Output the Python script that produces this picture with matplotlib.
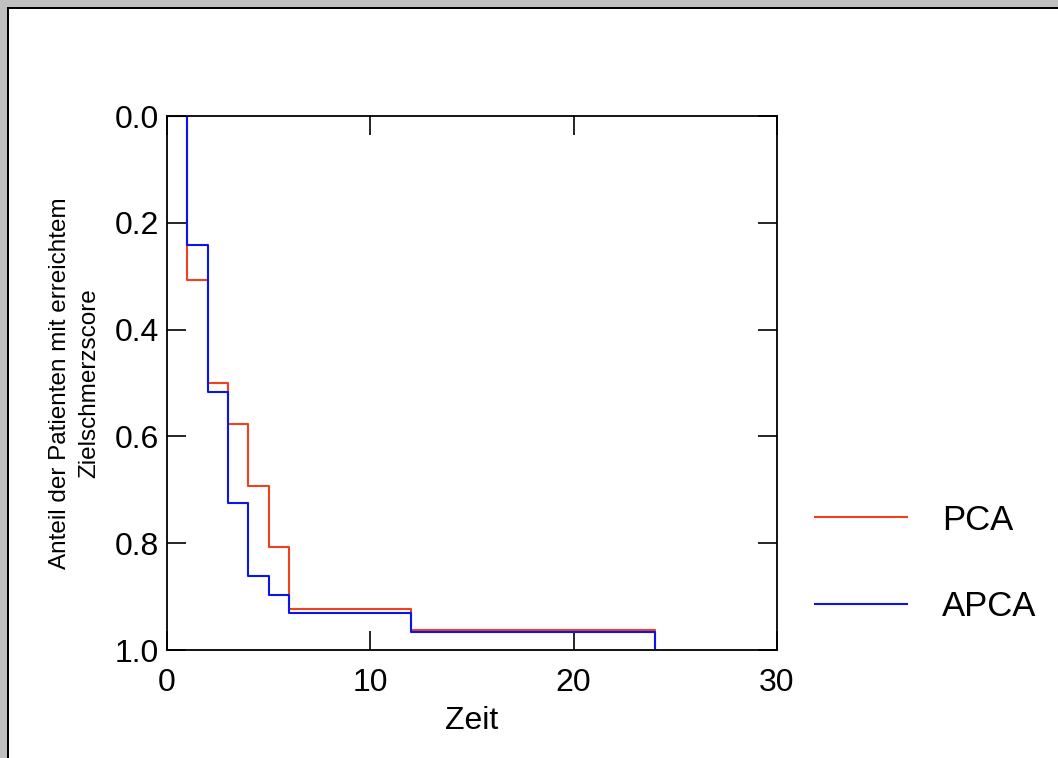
import matplotlib
matplotlib.use("Agg")
import matplotlib.pyplot as plt
from matplotlib.patches import Rectangle

plt.rcParams["font.family"] = ["Liberation Sans", "DejaVu Sans"]

# Data
zeit = [0, 1, 2, 3, 4, 5, 6, 12, 24]
pca = [0.0, 0.308, 0.500, 0.577, 0.692, 0.808, 0.923, 0.962, 1.0]
apca = [0.0, 0.241, 0.517, 0.724, 0.862, 0.897, 0.931, 0.966, 1.0]

x_ticks = [0, 10, 20, 30]
y_ticks = [0.0, 0.2, 0.4, 0.6, 0.8, 1.0]

red = "#f2401c"
blue = "#0a14f0"

fig = plt.figure(figsize=(10.58, 7.58), dpi=100)
fig.patch.set_facecolor("white")

# window-like frame (gray strip at top and left)
fig.patches.append(Rectangle((0, 1 - 7 / 758), 1, 7 / 758, transform=fig.transFigure,
                             facecolor="#c0c0c0", edgecolor="none", zorder=0))
fig.patches.append(Rectangle((0, 0), 7 / 1058, 1, transform=fig.transFigure,
                             facecolor="#c0c0c0", edgecolor="none", zorder=0))
fig.patches.append(Rectangle((7 / 1058, 1 - 9 / 758), 1, 2 / 758, transform=fig.transFigure,
                             facecolor="black", edgecolor="none", zorder=1))
fig.patches.append(Rectangle((7 / 1058, 0), 2 / 1058, 1 - 7 / 758, transform=fig.transFigure,
                             facecolor="black", edgecolor="none", zorder=1))

ax = fig.add_axes([167 / 1058, 1 - 650 / 758, (777 - 167) / 1058, (650 - 116) / 758])

ax.step(zeit, pca, where="post", color=red, lw=1.5, label="PCA")
ax.step(zeit, apca, where="post", color=blue, lw=1.5, label="APCA")

ax.set_xlim(0, 30)
ax.set_ylim(1.0, 0.0)
ax.set_xticks(x_ticks)
ax.set_yticks(y_ticks)
ax.set_yticklabels([f"{v:.1f}" for v in y_ticks])

ax.tick_params(direction="in", length=13.5, width=1.2, top=True, right=True,
               labelsize=23, colors="black")
ax.tick_params(axis="x", pad=13)
ax.tick_params(axis="y", pad=6)
for s in ax.spines.values():
    s.set_linewidth(1.3)

ax.set_xlabel("Zeit", fontsize=23, labelpad=6)
ax.set_ylabel("Anteil der Patienten mit erreichtem\nZielschmerzscore",
              fontsize=17.5, linespacing=1.45, labelpad=10)

fig.legend(loc="center left", bbox_to_anchor=(815 / 1058, 1 - 563.5 / 758),
           frameon=False, fontsize=25, handlelength=2.65, handletextpad=1.0,
           labelspacing=1.55, borderpad=0, borderaxespad=0)

fig.savefig("out.png", dpi=100)
